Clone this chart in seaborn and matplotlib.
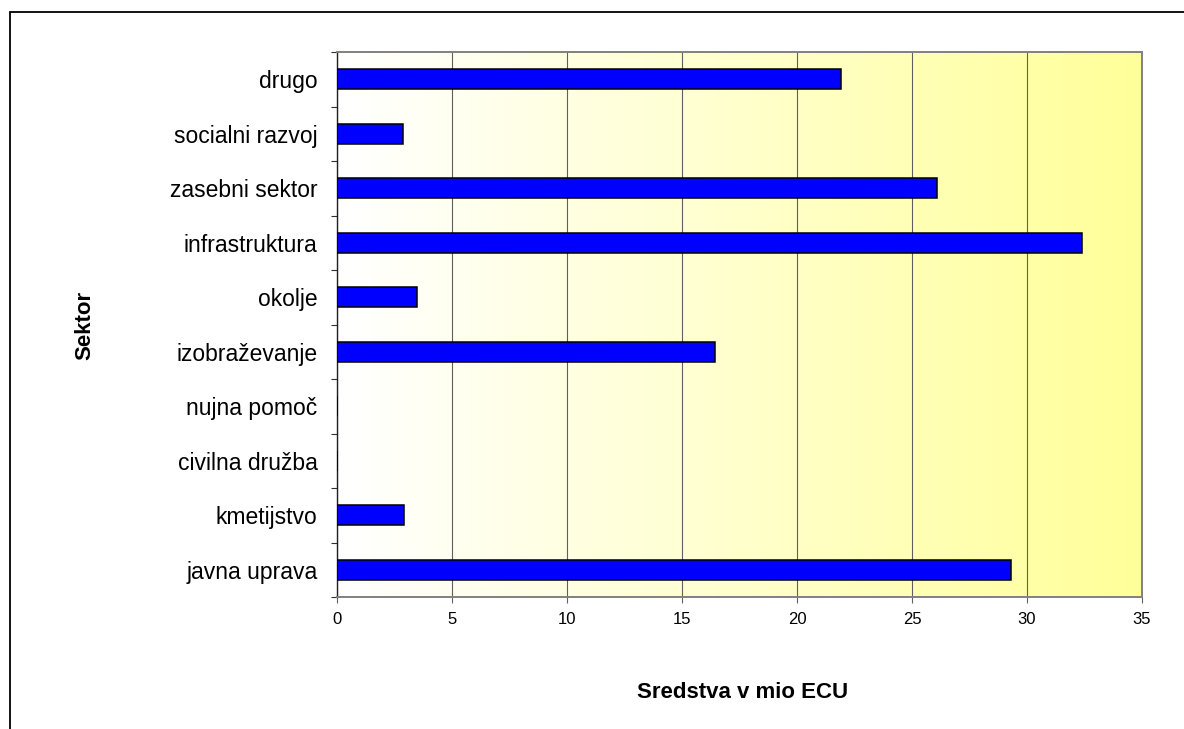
import numpy as np
import pandas as pd
import matplotlib
matplotlib.use("Agg")
import matplotlib.pyplot as plt
from matplotlib.colors import LinearSegmentedColormap
from matplotlib.patches import Rectangle
import seaborn as sns

# Sectors listed from top to bottom, with funds in million ECU
sectors = ["drugo", "socialni razvoj", "zasebni sektor", "infrastruktura",
           "okolje", "izobraževanje", "nujna pomoč", "civilna družba",
           "kmetijstvo", "javna uprava"]
funds = [21.9, 2.86, 26.1, 32.4, 3.49, 16.42, 0.0, 0.0, 2.93, 29.3]
x_ticks = [0, 5, 10, 15, 20, 25, 30, 35]

df = pd.DataFrame({"Sektor": sectors, "Sredstva": funds})

sns.set_style("white")
plt.rcParams["font.family"] = ["Liberation Sans", "DejaVu Sans"]
plt.rcParams["text.color"] = "black"
plt.rcParams["xtick.color"] = "black"
plt.rcParams["ytick.color"] = "black"
plt.rcParams["axes.labelcolor"] = "black"

fig = plt.figure(figsize=(11.84, 7.29), dpi=100)
ax = fig.add_axes([337 / 1184, 1 - 597 / 729, (1142 - 337) / 1184, (597 - 52) / 729])

# Horizontal white-to-yellow gradient behind the plot area
grad = np.linspace(0, 1, 256).reshape(1, -1)
cmap = LinearSegmentedColormap.from_list("wy", ["#FFFFFF", "#FFFF99"])
ax.imshow(grad, cmap=cmap, aspect="auto", extent=[0, 1, 0, 1],
          transform=ax.transAxes, zorder=-1)

sns.barplot(data=df, x="Sredstva", y="Sektor", order=sectors, orient="h",
            color="#0000FF", saturation=1, width=0.37,
            edgecolor="black", linewidth=1.1, ax=ax, zorder=3)

ax.set_xlim(0, 35)
ax.set_ylim(len(sectors) - 0.5, -0.5)
ax.set_xticks(x_ticks)
ax.set_xticklabels([str(t) for t in x_ticks], fontsize=12)

# Vertical gridlines only
ax.set_axisbelow(True)
ax.grid(axis="x", color="#5f5f5f", linewidth=0.8)
ax.grid(axis="y", visible=False)

# Category labels at centres, tick marks at the boundaries between them
ax.set_yticks(range(len(sectors)))
ax.set_yticklabels(sectors, fontsize=16.5)
ax.set_yticks(np.arange(-0.5, len(sectors), 1), minor=True)
ax.tick_params(axis="y", which="major", length=0, pad=14, labelcolor="black")
ax.tick_params(axis="y", which="minor", left=True, length=4, width=0.8,
               color="#303030", direction="out")
ax.tick_params(axis="x", which="major", bottom=True, length=4, width=0.8,
               color="#606060", direction="out", pad=7, labelcolor="black")

for side in ["top", "right", "bottom"]:
    ax.spines[side].set_color("#808080")
    ax.spines[side].set_linewidth(1.4)
ax.spines["left"].set_color("#202020")
ax.spines["left"].set_linewidth(1.0)

ax.set_xlabel("")
ax.set_ylabel("")
fig.text((337 + 1142) / 2 / 1184 + 0.003, 1 - 692 / 729, "Sredstva v mio ECU",
         ha="center", va="center", fontsize=16, fontweight="bold", color="black")
fig.text(85 / 1184, 1 - 325 / 729, "Sektor", ha="center", va="center",
         rotation=90, fontsize=16, fontweight="bold", color="black")

# Chart frame running off the right and bottom edges
fig.patches.append(Rectangle((10 / 1184, -0.1), 1.2, 1 - 12 / 729 + 0.1,
                             transform=fig.transFigure, fill=False,
                             edgecolor="black", linewidth=1.3))

fig.savefig("out.png", dpi=100)
